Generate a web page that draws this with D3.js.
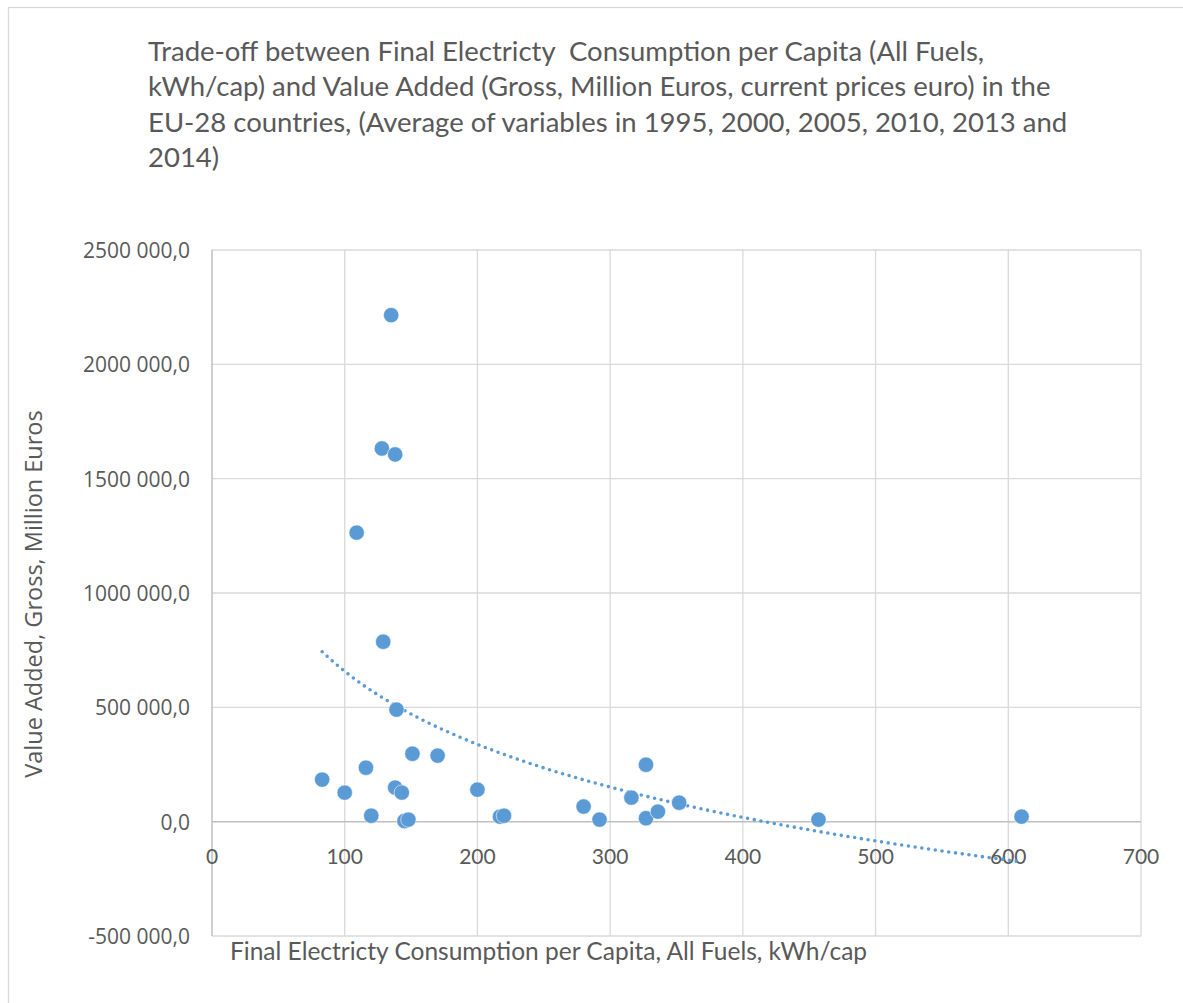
<!DOCTYPE html>
<html>
<head>
<meta charset="utf-8">
<script src="https://cdn.jsdelivr.net/npm/d3@7"></script>
<style>
body{margin:0;background:#fff}
text{fill:#595959}
</style>
</head>
<body>
<svg id="svg" width="1183" height="1003"></svg>
<script>
// chart values (kWh/cap, million euros)
var consumption=[135,128,138,109,129,139,151,170,83,116,100,138,143,120,145,148,200,217,220,280,292,316,327,327,336,352,457,610];
var valueAdded=[2215000,1632000,1606000,1264000,787000,490000,297000,289000,184000,236000,127000,149000,127000,26000,3000,9000,140000,22000,26000,66000,9000,105000,249000,15000,44000,83000,9000,22000];
var xTicks=[0,100,200,300,400,500,600,700];
var yTicks=[-500000,0,500000,1000000,1500000,2000000,2500000];
var titleLines=["Trade-off between Final Electricty  Consumption per Capita (All Fuels,",
  "kWh/cap) and Value Added (Gross, Million Euros, current prices euro) in the",
  "EU-28 countries, (Average of variables in 1995, 2000, 2005, 2010, 2013 and",
  "2014)"];
var xTitle="Final Electricty Consumption per Capita, All Fuels, kWh/cap";
var yTitle="Value Added, Gross, Million Euros";

var blue="#5B9BD5";
var svg=d3.select("#svg");

// outer chart frame (only left and top edges are inside the picture)
svg.append("rect")
    .attr("x",8.5).attr("y",7.5)
    .attr("width",1300).attr("height",1200)
    .attr("fill","none").attr("stroke","#D9D9D9").attr("stroke-width",1.3)

var pLeft=212,pTop=250,pRight=1141,pBottom=936;
var x=d3.scaleLinear().domain([0,700]).range([pLeft,pRight])
var y=d3.scaleLinear().domain([-500000,2500000]).range([pBottom,pTop])

// number format like "2500 000,0"
function fmt(v){
    var s=v<0?"-":"";
    var a=Math.abs(v);
    var hi=Math.floor(a/1000),lo=a%1000;
    return s+(hi>0?hi+" "+String(lo).padStart(3,"0"):String(lo))+",0";
}

// gridlines
svg.append("g").selectAll("line").data(xTicks.filter(d=>d>0)).enter().append("line")
    .attr("x1",d=>x(d)).attr("x2",d=>x(d))
    .attr("y1",pTop).attr("y2",pBottom)
    .attr("stroke","#D9D9D9").attr("stroke-width",1.3)
svg.append("g").selectAll("line").data(yTicks.filter(d=>d!=0)).enter().append("line")
    .attr("x1",pLeft).attr("x2",pRight)
    .attr("y1",d=>y(d)).attr("y2",d=>y(d))
    .attr("stroke","#D9D9D9").attr("stroke-width",1.3)

// axes lines
svg.append("line")
    .attr("x1",x(0)).attr("x2",x(0)).attr("y1",pTop).attr("y2",pBottom)
    .attr("stroke","#BFBFBF").attr("stroke-width",1.5)
svg.append("line")
    .attr("x1",pLeft).attr("x2",pRight).attr("y1",y(0)).attr("y2",y(0))
    .attr("stroke","#BFBFBF").attr("stroke-width",1.5)

// tick labels
svg.append("g").selectAll("text").data(yTicks).enter().append("text")
    .attr("x",190).attr("y",d=>y(d))
    .attr("text-anchor","end").attr("dominant-baseline","central")
    .style("font-family","'Open Sans'").style("font-size","21px")
    .text(fmt)
svg.append("g").selectAll("text").data(xTicks).enter().append("text")
    .attr("x",d=>x(d)).attr("y",y(0)+34)
    .attr("text-anchor","middle").attr("dominant-baseline","central")
    .style("font-family","Lato").style("font-size","21px")
    .text(d=>d)

// logarithmic trendline fitted on the points
var lx=consumption.map(Math.log);
var mx=d3.mean(lx),my=d3.mean(valueAdded);
var b=d3.sum(lx,(v,i)=>(v-mx)*(valueAdded[i]-my))/d3.sum(lx,v=>(v-mx)*(v-mx));
var a=my-b*mx;
var ext=d3.extent(consumption);
var trend=d3.range(0,101).map(i=>ext[0]+(ext[1]-ext[0])*i/100);
svg.append("path")
    .datum(trend)
    .attr("d",d3.line().x(d=>x(d)).y(d=>y(a+b*Math.log(d))))
    .attr("fill","none").attr("stroke",blue)
    .attr("stroke-width",3.6).attr("stroke-linecap","round")
    .attr("stroke-dasharray","0 6.8")

// points
svg.append("g").selectAll("circle").data(consumption).enter().append("circle")
    .attr("cx",d=>x(d)).attr("cy",(d,i)=>y(valueAdded[i]))
    .attr("r",7.7)
    .attr("fill",blue).attr("stroke","#ffffff").attr("stroke-opacity",0.7).attr("stroke-width",0.8)

// titles
svg.append("g").selectAll("text").data(titleLines).enter().append("text")
    .attr("x",148).attr("y",(d,i)=>50+i*35.6)
    .attr("dominant-baseline","central")
    .attr("xml:space","preserve").style("white-space","pre")
    .style("font-family","Lato").style("font-size","27.5px")
    .text(d=>d)
svg.append("text")
    .attr("x",230).attr("y",950)
    .attr("dominant-baseline","central")
    .style("font-family","Lato").style("font-size","24.5px")
    .text(xTitle)
svg.append("text")
    .attr("transform","translate(33,594) rotate(-90)")
    .attr("text-anchor","middle").attr("dominant-baseline","central")
    .style("font-family","'Open Sans'").style("font-size","23.5px")
    .text(yTitle)
</script>
</body>
</html>
